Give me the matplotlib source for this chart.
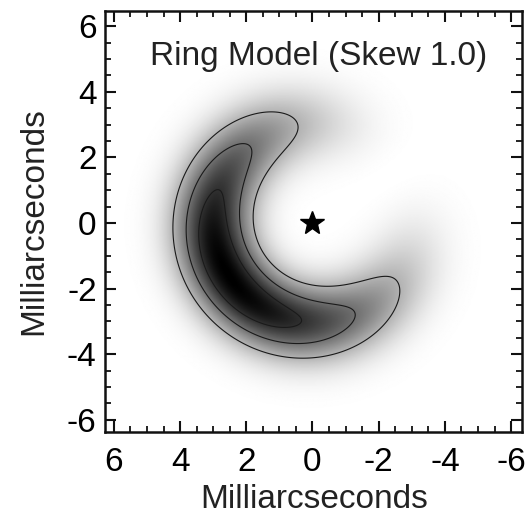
import numpy as np
import matplotlib
matplotlib.use("Agg")
import matplotlib.pyplot as plt
from matplotlib.ticker import MultipleLocator

plt.rcParams['font.family'] = ['Liberation Sans', 'DejaVu Sans']
plt.rcParams['axes.unicode_minus'] = False

# skewed ring model parameters (mas)
ring_radius = 3.0
ring_sigma = 0.81
skew = 1.0
skew_angle = -32.0          # direction of brightest side, degrees
contour_levels = [0.30, 0.56, 0.81]
star_pos = [0.0, 0.0]
x_lim = [6.27, -6.33]
y_lim = [-6.37, 6.46]
major_ticks = [-6, -4, -2, 0, 2, 4, 6]

# model image on a grid
n = 500
g = np.linspace(-6.5, 6.5, n)
xx, yy = np.meshgrid(g, g)
rr = np.hypot(xx, yy)
th = np.arctan2(yy, xx)
radial = np.exp(-(rr - ring_radius)**2 / (2 * ring_sigma**2))
azim = (1 + skew * np.cos(th - np.radians(skew_angle))) / (1 + skew)
img = radial * azim

fig = plt.figure(figsize=(5.27, 5.17), dpi=100)
ax = fig.add_axes([0.1992, 0.1644, 0.7913, 0.8143])

ax.imshow(img, cmap='gray_r', vmin=0, vmax=1, origin='lower',
          extent=[g[0], g[-1], g[0], g[-1]], interpolation='bilinear', aspect='auto')
ax.contour(xx, yy, img, levels=contour_levels, colors='#1a1a1a', linewidths=0.8)
ax.plot(star_pos[0], star_pos[1], marker='*', color='black', markersize=18, mec='black')

ax.set_xlim(x_lim)
ax.set_ylim(y_lim)
ax.set_xticks(major_ticks)
ax.set_yticks(major_ticks)
ax.xaxis.set_minor_locator(MultipleLocator(0.5))
ax.yaxis.set_minor_locator(MultipleLocator(0.5))
ax.tick_params(which='both', direction='in', top=True, right=True, color='#111111')
ax.tick_params(which='major', length=8, width=1.5, labelsize=24)
ax.tick_params(axis='x', which='major', pad=11)
ax.tick_params(axis='y', which='major', pad=6)
ax.tick_params(which='minor', length=4, width=1.3)
for s in ax.spines.values():
    s.set_linewidth(1.8)
    s.set_color('#111111')

ax.text(0.512, 0.872, "Ring Model (Skew 1.0)", transform=ax.transAxes,
        ha='center', va='baseline', fontsize=24, color='#222222')

ax.set_xlabel("Milliarcseconds", fontsize=24, color='#222222')
ax.set_ylabel("Milliarcseconds", fontsize=24, color='#222222')
ax.xaxis.set_label_coords(0.502, -0.1235)
ax.yaxis.set_label_coords(-0.134, 0.5)

fig.savefig("out.png", dpi=100)
